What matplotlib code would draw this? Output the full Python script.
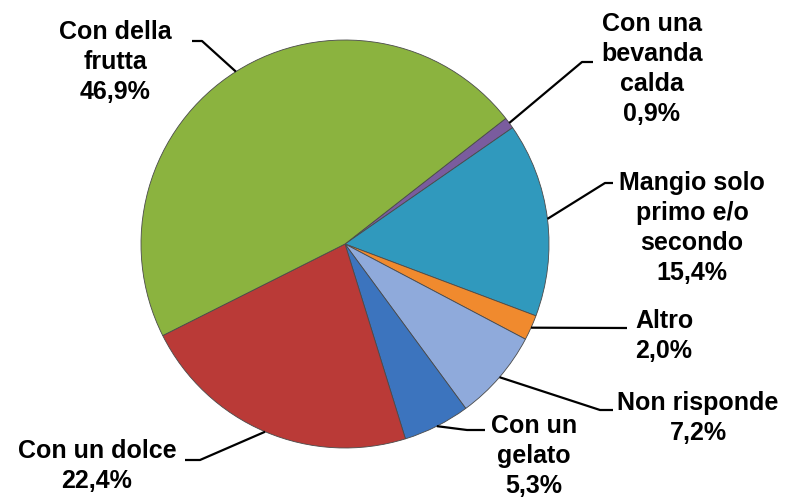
import numpy as np
import matplotlib.pyplot as plt

plt.rcParams['font.family'] = 'Liberation Sans'

# Slices in clockwise order, starting at the small purple one
labels = ['Con una\nbevanda\ncalda', 'Mangio solo\nprimo e/o\nsecondo', 'Altro',
          'Non risponde', 'Con un\ngelato', 'Con un dolce', 'Con della\nfrutta']
values = [0.9, 15.4, 2.0, 7.2, 5.3, 22.4, 46.9]
value_labels = ['0,9%', '15,4%', '2,0%', '7,2%', '5,3%', '22,4%', '46,9%']
colors = ['#7A5C9E', '#3099BD', '#F08A2E', '#8FAADB', '#3C74BE', '#BA3A37', '#8BB33F']

W, H = 788, 499
CX, CY, R = 345, 244, 204

# label layout in pixels: text centre, knee of leader, end of leader
layout = [
    ((652, 69), (582, 62), (593, 62)),
    ((692, 228), (605, 183), (613, 183)),
    ((664, 336), (627, 328), (627, 328)),
    ((698, 418), (600, 410), (613, 410)),
    ((534, 456), (467, 430), (485, 430)),
    ((97, 466), (200, 460), (185, 460)),
    ((115, 62), (202, 41), (192, 41)),
]


def px2d(p):
    return ((p[0] - CX) / R, (CY - p[1]) / R)


fig = plt.figure(figsize=(W / 100, H / 100), dpi=100)
ax = fig.add_axes([(CX - R) / W, (H - CY - R) / H, 2 * R / W, 2 * R / H])

wedges, _ = ax.pie(values, colors=colors, startangle=38, counterclock=False,
                   radius=1, wedgeprops=dict(edgecolor='#4a4a4a', linewidth=0.6))
ax.set_xlim(-1, 1)
ax.set_ylim(-1, 1)
ax.set_aspect('equal')
ax.axis('off')

for w, lab, val, (tc, knee, end) in zip(wedges, labels, value_labels, layout):
    mid = np.deg2rad((w.theta1 + w.theta2) / 2)
    edge = (np.cos(mid), np.sin(mid))
    pts = [edge, px2d(knee), px2d(end)]
    ax.plot([p[0] for p in pts], [p[1] for p in pts], color='black', lw=1.6,
            clip_on=False, solid_capstyle='butt')
    tx, ty = px2d(tc)
    ax.text(tx, ty, lab + '\n' + val, ha='center', va='center',
            multialignment='center', fontsize=18, fontweight='bold',
            linespacing=1.3, color='black', clip_on=False)

fig.savefig('out.png', dpi=100)
